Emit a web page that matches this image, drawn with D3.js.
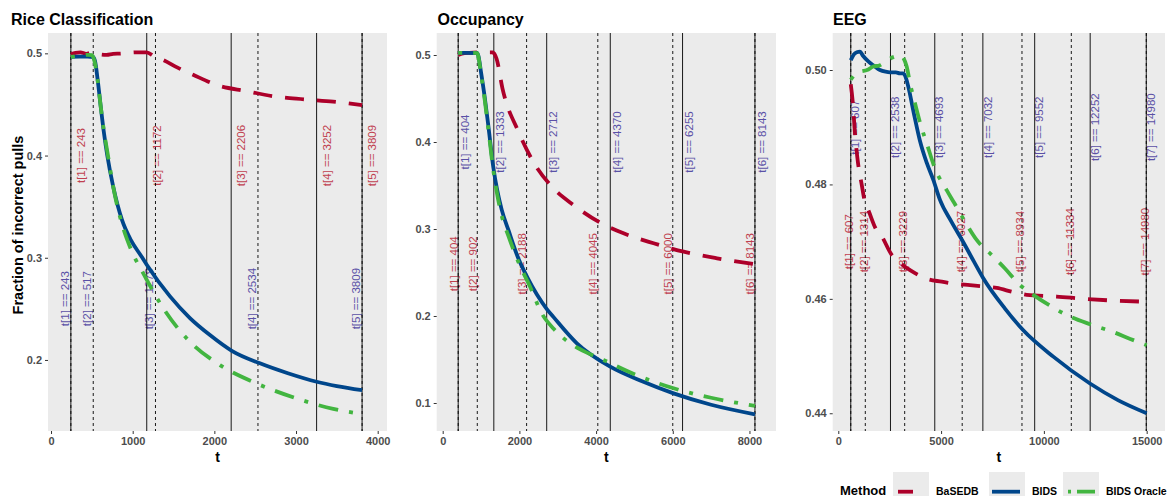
<!DOCTYPE html>
<html>
<head>
<meta charset="utf-8">
<script src="https://cdn.jsdelivr.net/npm/d3@7"></script>
<style>
  body { margin: 0; background: #fff; }
  svg text { font-family: "Liberation Sans", Arial, Helvetica, sans-serif; }
</style>
</head>
<body>
<svg id="chart" width="1172" height="496"></svg>
<script>
// ---- data ----
const methods = ['BaSEDB', 'BIDS', 'BIDS Oracle']
const methodColors = ['#AD002A', '#00468B', '#42B540']
const labelColors = { BaSEDB: '#C0404F', BIDS: '#5A50A6' }

// Rice Classification
const riceBaSEDB = [[243, 0.4990], [300, 0.5005], [360, 0.5010], [430, 0.4995], [520, 0.5012], [600, 0.4990], [680, 0.4985], [760, 0.4995], [850, 0.4998], [950, 0.5005], [1050, 0.5010], [1172, 0.5010], [1260, 0.4970], [1373, 0.4935], [1550, 0.4860], [1740, 0.4790], [2030, 0.4690], [2394, 0.4630], [2720, 0.4580], [3100, 0.4550], [3455, 0.4527], [3809, 0.4494]]
const riceBIDS = [[243, 0.4965], [350, 0.4968], [450, 0.4968], [517, 0.4962], [540, 0.4920], [570, 0.4750], [610, 0.4470], [650, 0.4210], [689, 0.4000], [760, 0.3700], [869, 0.3370], [980, 0.3170], [1110, 0.3010], [1172, 0.2932], [1457, 0.2622], [1701, 0.2410], [1946, 0.2244], [2219, 0.2087], [2558, 0.1967], [2900, 0.1870], [3252, 0.1787], [3500, 0.1745], [3809, 0.1705]]
const riceOracle = [[243, 0.4965], [350, 0.4975], [450, 0.4985], [500, 0.4982], [530, 0.4930], [570, 0.4740], [610, 0.4470], [650, 0.4230], [689, 0.4040], [760, 0.3700], [869, 0.3330], [980, 0.3080], [1130, 0.2847], [1375, 0.2505], [1681, 0.2195], [2069, 0.1950], [2518, 0.1770], [2987, 0.1629], [3456, 0.1521], [3809, 0.1472]]
const riceStopsBaSEDB = [243, 1172, 2206, 3252, 3809]
const riceStopsBIDS = [243, 517, 1279, 2534, 3809]
const riceXTicks = [0, 1000, 2000, 3000, 4000]
const riceYTicks = [0.2, 0.3, 0.4, 0.5]

// Occupancy
const occBaSEDB = [[404, 0.5000], [500, 0.5015], [700, 0.5025], [1000, 0.5030], [1300, 0.5030], [1366, 0.5000], [1403, 0.4960], [1558, 0.4617], [1975, 0.4119], [2385, 0.3755], [2846, 0.3487], [3410, 0.3276], [4107, 0.3073], [4716, 0.2950], [5499, 0.2836], [6283, 0.2739], [7154, 0.2663], [8143, 0.2595]]
const occBIDS = [[404, 0.5025], [600, 0.5025], [902, 0.5022], [930, 0.4990], [1000, 0.4800], [1100, 0.4500], [1200, 0.4150], [1318, 0.3716], [1420, 0.3450], [1540, 0.3220], [1713, 0.2989], [1974, 0.2660], [2200, 0.2450], [2453, 0.2250], [2715, 0.2080], [2886, 0.1990], [3499, 0.1686], [4368, 0.1417], [5200, 0.1250], [6021, 0.1111], [7000, 0.0980], [8143, 0.0870]]
const occOracle = [[404, 0.5025], [600, 0.5025], [902, 0.5022], [930, 0.4980], [1000, 0.4780], [1100, 0.4470], [1200, 0.4110], [1318, 0.3680], [1420, 0.3400], [1540, 0.3150], [1713, 0.2920], [1974, 0.2620], [2279, 0.2337], [2583, 0.2030], [2900, 0.1850], [3324, 0.1686], [3800, 0.1570], [4193, 0.1494], [5000, 0.1330], [6021, 0.1169], [7000, 0.1060], [8143, 0.0968]]
const occStopsBaSEDB = [404, 902, 2188, 4045, 6000, 8143]
const occStopsBIDS = [404, 1333, 2712, 4370, 6255, 8143]
const occXTicks = [0, 2000, 4000, 6000, 8000]
const occYTicks = [0.1, 0.2, 0.3, 0.4, 0.5]

// EEG
const eegBaSEDB = [[607, 0.4975], [700, 0.4945], [812, 0.4889], [950, 0.4840], [1137, 0.4800], [1299, 0.4768], [1460, 0.4755], [1868, 0.4720], [2028, 0.4714], [2597, 0.4677], [3100, 0.4660], [3731, 0.4645], [4300, 0.4635], [5029, 0.4630], [5700, 0.4626], [6406, 0.4624], [7000, 0.4622], [7704, 0.4619], [8500, 0.4612], [9163, 0.4607], [10623, 0.4604], [12000, 0.4600], [13376, 0.4597], [14980, 0.4595]]
const eegBIDS = [[607, 0.5017], [750, 0.5027], [900, 0.5031], [1055, 0.5032], [1200, 0.5025], [1460, 0.5015], [1750, 0.5007], [2028, 0.5000], [2300, 0.4997], [2515, 0.4996], [2800, 0.4996], [3000, 0.4994], [3161, 0.4994], [3300, 0.4985], [3404, 0.4971], [3700, 0.4920], [3974, 0.4876], [4300, 0.4838], [4621, 0.4808], [4946, 0.4773], [5500, 0.4735], [6080, 0.4699], [6600, 0.4665], [7052, 0.4636], [8108, 0.4583], [8998, 0.4545], [10457, 0.4499], [12242, 0.4452], [13600, 0.4423], [15000, 0.4400]]
const eegOracle = [[607, 0.4983], [800, 0.4992], [1055, 0.4997], [1400, 0.5000], [1702, 0.5006], [2000, 0.5008], [2189, 0.5012], [2515, 0.5020], [2800, 0.5024], [3001, 0.5026], [3150, 0.5022], [3327, 0.5006], [3500, 0.4975], [3731, 0.4942], [4000, 0.4905], [4300, 0.4872], [4703, 0.4828], [5272, 0.4790], [5650, 0.4767], [6245, 0.4730], [6731, 0.4703], [7539, 0.4674], [8108, 0.4653], [8838, 0.4624], [9485, 0.4607], [10300, 0.4588], [11270, 0.4569], [12300, 0.4555], [13376, 0.4542], [14200, 0.4530], [15000, 0.4519]]
const eegStopsBaSEDB = [607, 1314, 3229, 6027, 8934, 11334, 14980]
const eegStopsBIDS = [607, 2538, 4693, 7032, 9552, 12252, 14980]
const eegXTicks = [0, 5000, 10000, 15000]
const eegYTicks = [0.44, 0.46, 0.48, 0.50]

// ---- layout ----
const plotTop = 33
const plotBottom = 431
const dashes = { 'BaSEDB': '19,13', 'BIDS': null, 'BIDS Oracle': '4,11,20,11' }

const panels = [
  {
    title: 'Rice Classification', titleX: 11, left: 48, right: 387,
    xDomain: [-37, 4114], yDomain: [0.1305, 0.5199],
    xTicks: riceXTicks, yTicks: riceYTicks, yFormat: d3.format('.1f'),
    series: [riceBaSEDB, riceBIDS, riceOracle],
    stops: [
      { method: 'BaSEDB', values: riceStopsBaSEDB, dashed: false, labelY: 0.40, dx: 10 },
      { method: 'BIDS', values: riceStopsBIDS, dashed: true, labelY: 0.26, dx: -6.2 }
    ]
  },
  {
    title: 'Occupancy', titleX: 437.5, left: 436.7, right: 776,
    xDomain: [-156.5, 8692], yDomain: [0.0678, 0.5253],
    xTicks: occXTicks, yTicks: occYTicks, yFormat: d3.format('.1f'),
    series: [occBaSEDB, occBIDS, occOracle],
    stops: [
      { method: 'BaSEDB', values: occStopsBaSEDB, dashed: true, labelY: 0.26, dx: -4.7 },
      { method: 'BIDS', values: occStopsBIDS, dashed: false, labelY: 0.40, dx: 6.5 }
    ]
  },
  {
    title: 'EEG', titleX: 833, left: 832.7, right: 1165,
    xDomain: [-272, 15891], yDomain: [0.4369, 0.50647],
    xTicks: eegXTicks, yTicks: eegYTicks, yFormat: d3.format('.2f'),
    series: [eegBaSEDB, eegBIDS, eegOracle],
    stops: [
      { method: 'BaSEDB', values: eegStopsBaSEDB, dashed: true, labelY: 0.470, dx: -1.8 },
      { method: 'BIDS', values: eegStopsBIDS, dashed: false, labelY: 0.490, dx: 4.5 }
    ]
  }
]

const svg = d3.select('#chart')

function drawPanel (p) {
  const x = d3.scaleLinear().domain(p.xDomain).range([p.left, p.right])
  const y = d3.scaleLinear().domain(p.yDomain).range([plotBottom, plotTop])
  const g = svg.append('g')

  g.append('rect')
    .attr('x', p.left).attr('y', plotTop)
    .attr('width', p.right - p.left).attr('height', plotBottom - plotTop)
    .attr('fill', '#EBEBEB')

  // stop labels
  p.stops.forEach(s => {
    g.append('g').selectAll('text').data(s.values).join('text')
      .attr('transform', d => `translate(${x(d) + s.dx},${y(s.labelY)}) rotate(-90)`)
      .attr('text-anchor', 'middle')
      .attr('dy', '0.36em')
      .attr('fill', labelColors[s.method])
      .style('font-size', '11.5px')
      .text((d, i) => `t[${i + 1}] == ${d}`)
  })

  // stop lines
  p.stops.forEach(s => {
    g.append('g').selectAll('line').data(s.values).join('line')
      .attr('x1', d => x(d)).attr('x2', d => x(d))
      .attr('y1', plotTop).attr('y2', plotBottom)
      .attr('stroke', '#000')
      .attr('stroke-width', 0.9)
      .attr('stroke-dasharray', s.dashed ? '3,3' : null)
  })

  // curves
  const line = d3.line().x(d => x(d[0])).y(d => y(d[1])).curve(d3.curveMonotoneX)
  p.series.forEach((data, i) => {
    g.append('path')
      .datum(data)
      .attr('d', line)
      .attr('fill', 'none')
      .attr('stroke', methodColors[i])
      .attr('stroke-width', 3.8)
      .attr('stroke-dasharray', dashes[methods[i]])
      .attr('stroke-linejoin', 'round')
  })

  // axes
  const ya = g.append('g')
    .attr('transform', `translate(${p.left},0)`)
    .call(d3.axisLeft(y).tickValues(p.yTicks).tickFormat(p.yFormat).tickSize(3).tickPadding(3))
  const xa = g.append('g')
    .attr('transform', `translate(0,${plotBottom})`)
    .call(d3.axisBottom(x).tickValues(p.xTicks).tickFormat(d3.format('d')).tickSize(3).tickPadding(3))
  ;[ya, xa].forEach(a => {
    a.select('.domain').remove()
    a.selectAll('.tick line').attr('stroke', '#333333').attr('stroke-width', 1)
    a.selectAll('.tick text')
      .attr('fill', '#4D4D4D')
      .style('font-size', '11px')
      .style('font-weight', 'bold')
      .style('font-family', '"Liberation Sans", Arial, sans-serif')
  })

  g.append('text')
    .attr('x', (p.left + p.right) / 2).attr('y', 462)
    .attr('text-anchor', 'middle')
    .style('font-size', '14px').style('font-weight', 'bold')
    .text('t')

  g.append('text')
    .attr('x', p.titleX).attr('y', 24.5)
    .style('font-size', '16px').style('font-weight', 'bold')
    .text(p.title)
}

panels.forEach(drawPanel)

svg.append('text')
  .attr('transform', 'translate(18,225) rotate(-90)')
  .attr('text-anchor', 'middle')
  .attr('dy', '0.36em')
  .style('font-size', '14.5px').style('font-weight', 'bold')
  .text('Fraction of incorrect pulls')

// legend
const legend = svg.append('g')
legend.append('text')
  .attr('x', 840).attr('y', 494.5)
  .style('font-size', '13px').style('font-weight', 'bold')
  .text('Method')

const keyX = [893, 989, 1063]
const keyW = 36
const keyLines = [[898, 913, null], [992, 1020, null], [1068, 1095, '3,6,18,40']]
methods.forEach((m, i) => {
  legend.append('rect')
    .attr('x', keyX[i]).attr('y', 472)
    .attr('width', keyW).attr('height', 40)
    .attr('fill', '#EBEBEB')
  legend.append('line')
    .attr('x1', keyLines[i][0]).attr('x2', keyLines[i][1])
    .attr('y1', 491.7).attr('y2', 491.7)
    .attr('stroke', methodColors[i]).attr('stroke-width', 3.8)
    .attr('stroke-dasharray', keyLines[i][2])
  legend.append('text')
    .attr('x', keyX[i] + keyW + 7).attr('y', 495)
    .style('font-size', '10.5px').style('font-weight', 'bold')
    .text(m)
})
</script>
</body>
</html>
